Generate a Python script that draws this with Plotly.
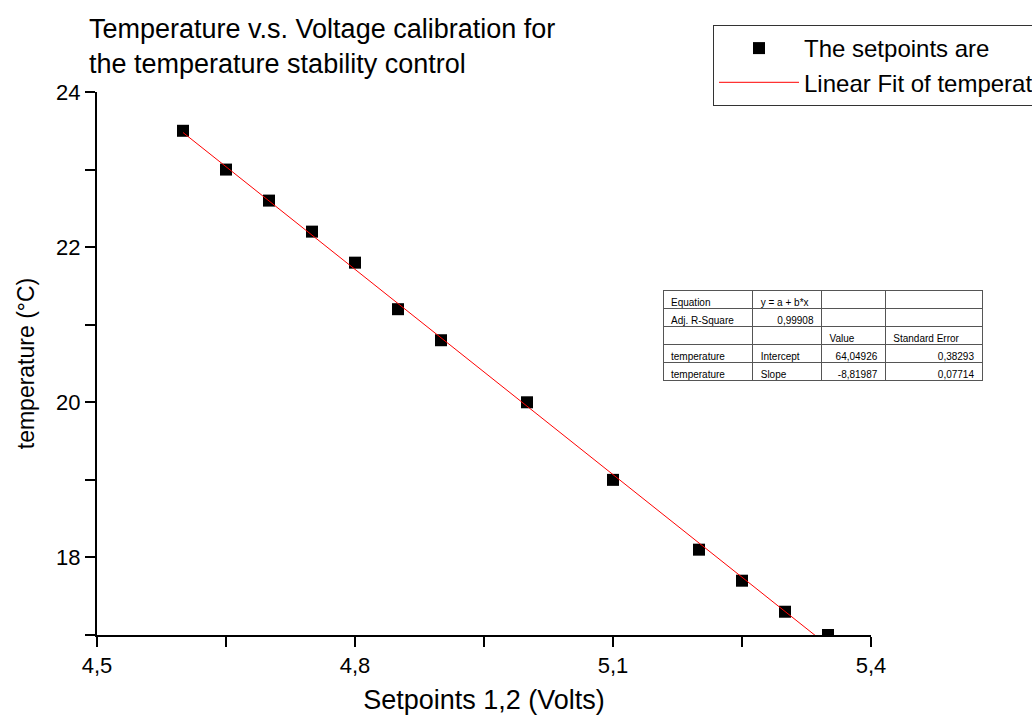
import plotly.graph_objects as go

# ---- data ----
setpoint_volts = [4.60, 4.65, 4.70, 4.75, 4.80, 4.85, 4.90, 5.00, 5.10, 5.20, 5.25, 5.30, 5.35]
temperature_c = [23.5, 23.0, 22.6, 22.2, 21.8, 21.2, 20.8, 20.0, 19.0, 18.1, 17.7, 17.3, 17.0]

fit_intercept = 64.04926
fit_slope = -8.81987
fit_x = [4.60, 5.35]
fit_y = [fit_intercept + fit_slope * v for v in fit_x]

table_header = ["Equation", "y = a + b*x", "", ""]
table_col1 = ["Adj. R-Square", "", "temperature", "temperature"]
table_col2 = ["0,99908", "", "Intercept", "Slope"]
table_col3 = ["", "Value", "64,04926", "-8,81987"]
table_col4 = ["", "Standard Error", "0,38293", "0,07714"]
# per-cell alignment of the body rows (L = left, R = right)
table_align = [
    ["L", "L", "L", "L"],
    ["R", "L", "L", "L"],
    ["R", "L", "R", "R"],
    ["R", "L", "R", "R"],
]

x_tick_vals = [4.5, 4.8, 5.1, 5.4]
y_tick_vals = [18, 20, 22, 24]

title_text = "Temperature v.s. Voltage calibration for<br>the temperature stability control"
legend_points = "The setpoints are"
legend_fit = "Linear Fit of temperature"

FONT = "Arial, 'Liberation Sans', sans-serif"

W, H = 1032, 715
ML, MR, MT, MB = 97, 40, 92, 80
PW = W - ML - MR
PH = H - MT - MB
AX_RIGHT = 871

def px_x(p):
    return (p - ML) / PW

def px_y(p):
    return 1 - (p - MT) / PH

fig = go.Figure()

fig.add_trace(go.Scatter(
    x=setpoint_volts, y=temperature_c, mode="markers", name=legend_points,
    marker=dict(symbol="square", size=12, color="black"),
))
fig.add_trace(go.Scatter(
    x=fit_x, y=fit_y, mode="lines", name=legend_fit,
    line=dict(color="red", width=1),
))

body_cols = [table_col1, table_col2, table_col3, table_col4]
left_cols = [[v if a == "L" else "" for v, a in zip(col, al)] for col, al in zip(body_cols, table_align)]
right_cols = [[v if a == "R" else "" for v, a in zip(col, al)] for col, al in zip(body_cols, table_align)]

tbl_domain = dict(x=[px_x(663), px_x(983)], y=[px_y(384), px_y(290)])
tbl_widths = [90, 69, 64, 97]
tbl_font = dict(family=FONT, size=10, color="black")

fig.add_trace(go.Table(
    domain=tbl_domain, columnwidth=tbl_widths,
    header=dict(values=table_header, align="left", height=18, font=tbl_font,
                fill=dict(color="white"), line=dict(color="#555555", width=1)),
    cells=dict(values=left_cols, align="left", height=18, font=tbl_font,
               fill=dict(color="white"), line=dict(color="#555555", width=1)),
))
fig.add_trace(go.Table(
    domain=tbl_domain, columnwidth=tbl_widths,
    header=dict(values=["", "", "", ""], align="right", height=18, font=tbl_font,
                fill=dict(color="rgba(0,0,0,0)"), line=dict(color="rgba(0,0,0,0)", width=0)),
    cells=dict(values=right_cols, align="right", height=18, font=tbl_font,
               fill=dict(color="rgba(0,0,0,0)"), line=dict(color="rgba(0,0,0,0)", width=0)),
))

axis_common = dict(
    showline=True, linecolor="black", linewidth=2,
    ticks="outside", ticklen=10, tickwidth=1.5, tickcolor="black",
    showgrid=False, zeroline=False, mirror=False,
    tickfont=dict(family=FONT, size=22, color="black"),
)

fig.update_layout(
    width=W, height=H,
    margin=dict(l=ML, r=MR, t=MT, b=MB, autoexpand=False),
    paper_bgcolor="white", plot_bgcolor="white",
    separators=",.",
    font=dict(family=FONT, color="black"),
    title=dict(
        text=title_text, xref="container", x=89 / W, xanchor="left",
        yref="container", y=1 - 38 / H, yanchor="top",
        font=dict(family=FONT, size=27, color="black"),
    ),
    xaxis=dict(
        axis_common, domain=[0, (AX_RIGHT - ML) / PW], range=[4.5, 5.4],
        tickvals=x_tick_vals,
        minor=dict(dtick=0.15, tick0=4.5, ticks="outside", ticklen=10, tickwidth=1.5, tickcolor="black"),
        title=dict(text="Setpoints 1,2 (Volts)", font=dict(family=FONT, size=27, color="black")),
    ),
    yaxis=dict(
        axis_common, range=[17, 24], tickvals=y_tick_vals,
        minor=dict(dtick=1, tick0=17, ticks="outside", ticklen=10, tickwidth=1.5, tickcolor="black"),
        title=dict(text="temperature (°C)", font=dict(family=FONT, size=23, color="black")),
    ),
    showlegend=True,
    legend=dict(
        x=px_x(713), y=1 + (MT - 25) / PH, xanchor="left", yanchor="top",
        bordercolor="#333333", borderwidth=1, bgcolor="white",
        font=dict(family=FONT, size=24, color="black"),
        itemwidth=80, tracegroupgap=0,
    ),
)

fig.write_html("out.html")
